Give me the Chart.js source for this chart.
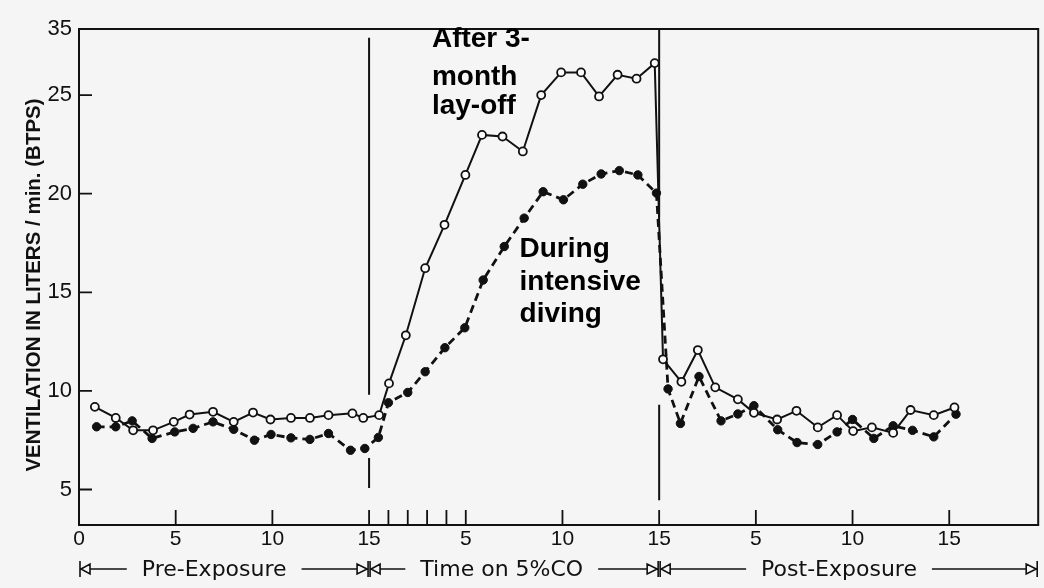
<!DOCTYPE html>
<html>
<head>
<meta charset="utf-8">
<script src="https://cdn.jsdelivr.net/npm/chart.js@4.4.0/dist/chart.umd.min.js"></script>
<style>
html,body{margin:0;padding:0;background:#f5f5f5;}
#wrap{width:1044px;height:588px;}
</style>
</head>
<body>
<div id="wrap"><canvas id="c" width="1044" height="588"></canvas></div>
<script>
// ---- data (time in minutes on a continuous 0..~50 axis; ventilation L/min BTPS) ----
const layoffTime = [0.82,1.9,2.8,3.83,4.9,5.72,6.93,8.0,9.0,9.9,10.96,11.94,12.9,14.14,14.7,15.52,
  16.03,16.9,17.9,18.9,19.98,20.84,21.9,22.95,23.9,24.93,25.96,26.89,27.85,28.83,29.77,
  30.2,31.15,32.0,32.9,34.07,34.9,36.1,37.1,38.2,39.2,40.03,41.0,42.1,43.0,44.2,45.27];
const layoffVent = [9.19,8.63,8.0,8.0,8.43,8.8,8.94,8.43,8.9,8.55,8.63,8.63,8.77,8.86,8.63,8.77,
  10.38,12.82,16.22,18.42,20.95,22.98,22.9,22.14,25.0,26.15,26.15,24.93,26.03,25.83,26.62,
  11.6,10.46,12.07,10.18,9.57,8.89,8.55,8.99,8.15,8.77,7.96,8.15,7.87,9.03,8.77,9.16];

const divingTime = [0.91,1.9,2.75,3.78,4.95,5.9,6.93,8.0,9.07,9.93,10.96,11.94,12.9,14.04,14.78,15.48,
  16.0,17.0,17.9,18.92,19.95,20.9,21.99,23.02,24.0,25.05,26.05,27.0,27.94,28.9,29.86,
  30.46,31.1,32.06,33.2,34.07,34.9,36.13,37.13,38.2,39.2,40.0,41.1,42.1,43.1,44.2,45.35];
const divingVent = [8.18,8.18,8.48,7.59,7.92,8.1,8.43,8.05,7.5,7.79,7.62,7.54,7.84,6.99,7.08,7.64,
  9.4,9.92,10.97,12.19,13.2,15.62,17.32,18.76,20.1,19.69,20.48,21.0,21.17,20.95,20.03,
  10.1,8.35,10.73,8.48,8.83,9.25,8.03,7.38,7.28,7.92,8.55,7.59,8.23,8.0,7.67,8.82];

const xTickValues = [0,5,10,15,20,25,30,35,40,45];
const xTickLabels = ['0','5','10','15','5','10','15','5','10','15'];
const xMinorTicks = [16,17,18,19];
const yTickValues = [5,10,15,20,25];
const yTickLabels = ['5','10','15','20','25'];
const yTopLabel = '35';
const yTitle = 'VENTILATION IN LITERS / min. (BTPS)';
const phaseNames = ['Pre-Exposure','Time on 5%CO','Post-Exposure'];
const phaseBounds = [0,15,30,49.6];
const phaseTextCenters = [6.99,21.86,39.3];
const seriesNames = ['After 3-month lay-off','During intensive diving'];

const X_MIN = 0, X_MAX = 49.6, Y_MIN = 3.2, Y_MAX = 28.35;

// annotation text lines anchored in data units
const annotations = [
  {text:'After 3-', t:18.25, v:27.45},
  {text:'month', t:18.25, v:25.52},
  {text:'lay-off', t:18.25, v:24.05},
  {text:'During', t:22.78, v:16.79},
  {text:'intensive', t:22.78, v:15.13},
  {text:'diving', t:22.78, v:13.5}
];
const separators = [
  {t:15, spans:[[27.9,9.8],[6.6,5.07]]},
  {t:30, spans:[[Y_MAX,18.8],[9.3,4.45]]}
];

const INK = '#111111';
const BG = '#f5f5f5';

const decor = {
  id:'decor',
  beforeDraw(chart){
    const c = chart.ctx;
    c.save(); c.fillStyle = BG; c.fillRect(0,0,chart.width,chart.height); c.restore();
  },
  afterDraw(chart){
    const c = chart.ctx, a = chart.chartArea, xs = chart.scales.x, ys = chart.scales.y;
    c.save();
    c.strokeStyle = INK; c.fillStyle = INK;
    // frame
    c.lineWidth = 2;
    c.strokeRect(a.left, a.top, a.right - a.left, a.bottom - a.top);
    // inward ticks
    c.lineWidth = 1.8;
    c.beginPath();
    xTickValues.slice(1).concat(xMinorTicks).forEach(v=>{
      const x = xs.getPixelForValue(v);
      c.moveTo(x, a.bottom); c.lineTo(x, a.bottom - 15);
    });
    yTickValues.forEach(v=>{
      const y = ys.getPixelForValue(v);
      c.moveTo(a.left, y); c.lineTo(a.left + 13, y);
    });
    c.stroke();
    // phase separators
    c.lineWidth = 2;
    c.beginPath();
    separators.forEach(s=>{
      const x = xs.getPixelForValue(s.t);
      s.spans.forEach(sp=>{ c.moveTo(x, ys.getPixelForValue(sp[0])); c.lineTo(x, ys.getPixelForValue(sp[1])); });
    });
    c.stroke();
    // y axis title
    c.save();
    c.translate(34, (a.top + a.bottom) / 2 + 8);
    c.rotate(-Math.PI / 2);
    c.font = 'bold 20.5px "Liberation Sans", Arial, sans-serif';
    c.textAlign = 'center'; c.textBaseline = 'middle';
    c.fillText(yTitle, 0, 0);
    c.restore();
    // annotations
    c.font = 'bold 28px "Liberation Sans", Arial, sans-serif';
    c.textAlign = 'left'; c.textBaseline = 'alphabetic';
    c.fillStyle = '#000';
    annotations.forEach(an=>{
      c.fillText(an.text, xs.getPixelForValue(an.t), ys.getPixelForValue(an.v));
    });
    // phase labels with arrows
    const yb = 569;
    c.font = '22px "DejaVu Sans", sans-serif';
    c.textAlign = 'center'; c.textBaseline = 'middle';
    c.fillStyle = INK; c.strokeStyle = INK; c.lineWidth = 1.6;
    for (let i = 0; i < phaseNames.length; i++) {
      const L = xs.getPixelForValue(phaseBounds[i]);
      const R = Math.min(xs.getPixelForValue(phaseBounds[i+1]), chart.width - 1);
      const cx = xs.getPixelForValue(phaseTextCenters[i]);
      const w = c.measureText(phaseNames[i]).width;
      c.fillText(phaseNames[i], cx, yb + 1);
      c.beginPath();
      c.moveTo(L + 1, yb - 8); c.lineTo(L + 1, yb + 8);
      c.moveTo(R - 1, yb - 8); c.lineTo(R - 1, yb + 8);
      c.moveTo(L + 11, yb); c.lineTo(cx - w/2 - 15, yb);
      c.moveTo(cx + w/2 + 15, yb); c.lineTo(R - 12, yb);
      c.moveTo(L + 2, yb); c.lineTo(L + 11, yb - 5); c.lineTo(L + 11, yb + 5); c.closePath();
      c.moveTo(R - 2, yb); c.lineTo(R - 12, yb - 5); c.lineTo(R - 12, yb + 5); c.closePath();
      c.stroke();
    }
    c.restore();
  }
};

new Chart(document.getElementById('c'), {
  type: 'line',
  data: {
    datasets: [
      {
        label: seriesNames[0],
        data: layoffTime.map((t,i)=>({x:t, y:layoffVent[i]})),
        borderColor: INK, borderWidth: 2,
        pointRadius: 4, pointBorderWidth: 1.8,
        pointBackgroundColor: '#fafafa', pointBorderColor: INK,
        tension: 0, fill: false
      },
      {
        label: seriesNames[1],
        data: divingTime.map((t,i)=>({x:t, y:divingVent[i]})),
        borderColor: INK, borderWidth: 2.8, borderDash: [8,5],
        pointRadius: 4.2, pointBorderWidth: 1,
        pointBackgroundColor: INK, pointBorderColor: INK,
        tension: 0, fill: false
      }
    ]
  },
  options: {
    responsive: false,
    animation: false,
    layout: { padding: { top: 29, right: 2, left: 0, bottom: 0 } },
    plugins: { legend: { display: false }, tooltip: { enabled: false } },
    scales: {
      x: {
        type: 'linear', min: X_MIN, max: X_MAX,
        grid: { display: false, drawTicks: false },
        border: { display: false },
        afterBuildTicks: s => { s.ticks = xTickValues.map(v=>({value:v})); },
        afterFit: s => { s.height = 63; },
        ticks: {
          autoSkip: false, maxRotation: 0, padding: 2,
          color: INK, font: { family: '"Liberation Sans", Arial, sans-serif', size: 21 },
          callback: (v, i) => xTickLabels[i]
        }
      },
      y: {
        type: 'linear', min: Y_MIN, max: Y_MAX,
        grid: { display: false, drawTicks: false },
        border: { display: false },
        afterBuildTicks: s => { s.ticks = yTickValues.concat([Y_MAX]).map(v=>({value:v})); },
        afterFit: s => { s.width = 79; },
        ticks: {
          autoSkip: false, padding: 7,
          color: INK, font: { family: '"Liberation Sans", Arial, sans-serif', size: 22 },
          callback: (v, i) => i < yTickLabels.length ? yTickLabels[i] : yTopLabel
        }
      }
    }
  },
  plugins: [decor]
});
</script>
</body>
</html>
